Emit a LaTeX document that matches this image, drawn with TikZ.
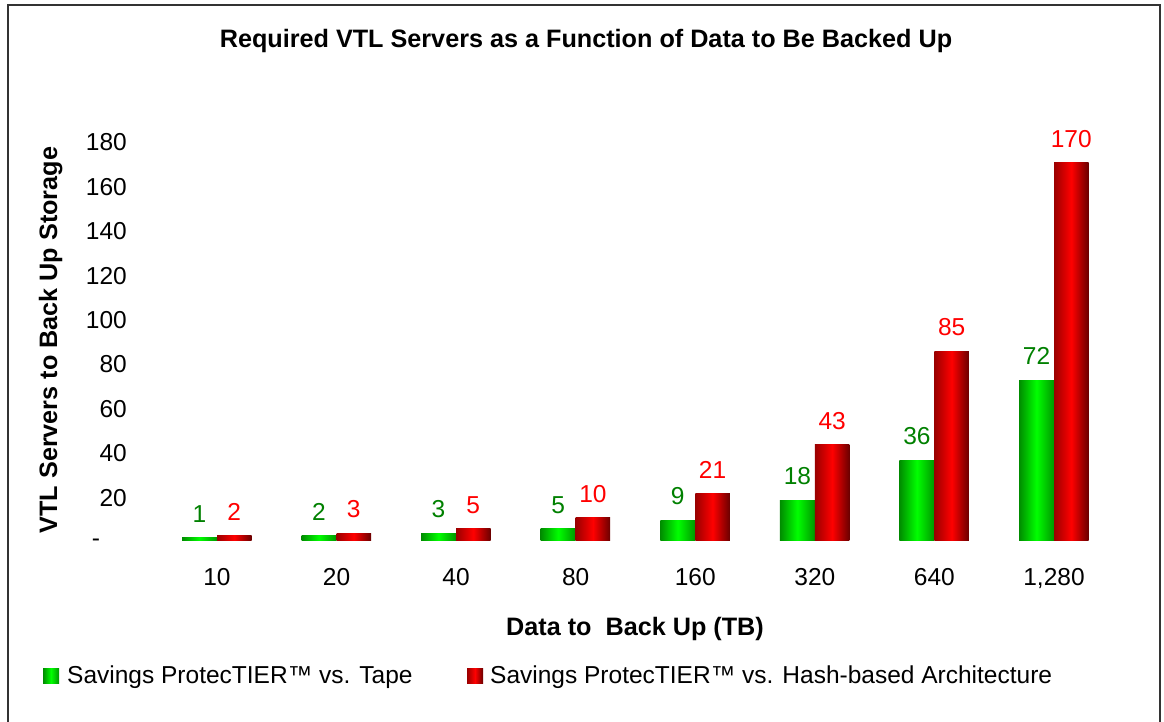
\documentclass[tikz,border=0pt]{standalone}
\usepackage{fontspec}
\setmainfont{Liberation Sans}
\begin{document}
\begin{tikzpicture}[x=1pt, y=-1pt,
  txt/.style={inner sep=0pt, font=\fontsize{24.5}{29}\selectfont},
  headtxt/.style={inner sep=0pt, font=\fontsize{25.2}{30}\selectfont\bfseries},
  gbar/.style={left color=gleft, right color=gright, middle color=gmid},
  rbar/.style={left color=rleft, right color=rright, middle color=rmid},
  gval/.style={txt, anchor=south, yshift=15pt, text=gtext},
  rval/.style={txt, anchor=south, yshift=15pt, text=rtext}]
\definecolor{gleft}{HTML}{008C00}
\definecolor{gmid}{HTML}{00FF00}
\definecolor{gright}{HTML}{009600}
\definecolor{rleft}{HTML}{9A0000}
\definecolor{rmid}{HTML}{FF0000}
\definecolor{rright}{HTML}{6A0000}
\definecolor{gtext}{HTML}{008000}
\definecolor{rtext}{HTML}{FF0000}
\useasboundingbox (0, 0) rectangle (1164, 721);
\draw[line width=1.4pt, black!80] (8, 5) rectangle (1160, 740);
% titles
\node[headtxt, anchor=base] (title) at (586, 47) {Required VTL Servers as a Function of Data to Be Backed Up};
\node[headtxt, anchor=base, rotate=90] (ytitle) at (57, 340) {VTL Servers to Back Up Storage};
\node[headtxt, anchor=base] (xtitle) at (635, 635) {Data to\ \ Back Up (TB)};
% value axis
\node[txt, anchor=east] (y180) at (127, 540 - 180*2.22 + 2) {180};
\node[txt, anchor=east] (y160) at (127, 540 - 160*2.22 + 2) {160};
\node[txt, anchor=east] (y140) at (127, 540 - 140*2.22 + 2) {140};
\node[txt, anchor=east] (y120) at (127, 540 - 120*2.22 + 2) {120};
\node[txt, anchor=east] (y100) at (127, 540 - 100*2.22 + 2) {100};
\node[txt, anchor=east] (y80) at (127, 540 - 80*2.22 + 2) {80};
\node[txt, anchor=east] (y60) at (127, 540 - 60*2.22 + 2) {60};
\node[txt, anchor=east] (y40) at (127, 540 - 40*2.22 + 2) {40};
\node[txt, anchor=east] (y20) at (127, 540 - 20*2.22 + 2) {20};
\node[txt, anchor=base] (y0) at (96, 546.7) {-};
% category axis
\node[txt, anchor=base] (x10) at (217, 585) {10};
\node[txt, anchor=base] (x20) at (336.5, 585) {20};
\node[txt, anchor=base] (x40) at (456, 585) {40};
\node[txt, anchor=base] (x80) at (575.7, 585) {80};
\node[txt, anchor=base] (x160) at (695.3, 585) {160};
\node[txt, anchor=base] (x320) at (814.9, 585) {320};
\node[txt, anchor=base] (x640) at (934.4, 585) {640};
\node[txt, anchor=base] (x1280) at (1054, 585) {1,280};
% bars
\shade[gbar] (182, 540) rectangle (217, 540 - 1*2.22) (199.5, 540 - 1*2.22) node[gval] (g10) {1};
\shade[rbar] (217, 540) rectangle (251.5, 540 - 2*2.22) (234.25, 540 - 2*2.22) node[rval] (r10) {2};
\shade[gbar] (301.5, 540) rectangle (336.5, 540 - 2*2.22) (319, 540 - 2*2.22) node[gval] (g20) {2};
\shade[rbar] (336.5, 540) rectangle (371, 540 - 3*2.22) (353.75, 540 - 3*2.22) node[rval] (r20) {3};
\shade[gbar] (421, 540) rectangle (456, 540 - 3*2.22) (438.5, 540 - 3*2.22) node[gval] (g40) {3};
\shade[rbar] (456, 540) rectangle (490.5, 540 - 5*2.22) (473.25, 540 - 5*2.22) node[rval] (r40) {5};
\shade[gbar] (540.7, 540) rectangle (575.7, 540 - 5*2.22) (558.2, 540 - 5*2.22) node[gval] (g80) {5};
\shade[rbar] (575.7, 540) rectangle (610.2, 540 - 10*2.22) (592.95, 540 - 10*2.22) node[rval] (r80) {10};
\shade[gbar] (660.3, 540) rectangle (695.3, 540 - 9*2.22) (677.8, 540 - 9*2.22) node[gval] (g160) {9};
\shade[rbar] (695.3, 540) rectangle (729.8, 540 - 21*2.22) (712.55, 540 - 21*2.22) node[rval] (r160) {21};
\shade[gbar] (779.9, 540) rectangle (814.9, 540 - 18*2.22) (797.4, 540 - 18*2.22) node[gval] (g320) {18};
\shade[rbar] (814.9, 540) rectangle (849.4, 540 - 43*2.22) (832.15, 540 - 43*2.22) node[rval] (r320) {43};
\shade[gbar] (899.4, 540) rectangle (934.4, 540 - 36*2.22) (916.9, 540 - 36*2.22) node[gval] (g640) {36};
\shade[rbar] (934.4, 540) rectangle (968.9, 540 - 85*2.22) (951.65, 540 - 85*2.22) node[rval] (r640) {85};
\shade[gbar] (1019, 540) rectangle (1054, 540 - 72*2.22) (1036.5, 540 - 72*2.22) node[gval] (g1280) {72};
\shade[rbar] (1054, 540) rectangle (1088.5, 540 - 170*2.22) (1071.25, 540 - 170*2.22) node[rval] (r1280) {170};
% legend
\shade[gbar] (43, 668) rectangle (59, 683);
\node[txt, anchor=base west] (leg1) at (67, 683) {Savings ProtecTIER™ vs. Tape};
\shade[rbar] (467, 668) rectangle (483, 683);
\node[txt, anchor=base west] (leg2) at (490, 683) {Savings ProtecTIER™ vs. Hash-based Architecture};
\end{tikzpicture}
\end{document}
